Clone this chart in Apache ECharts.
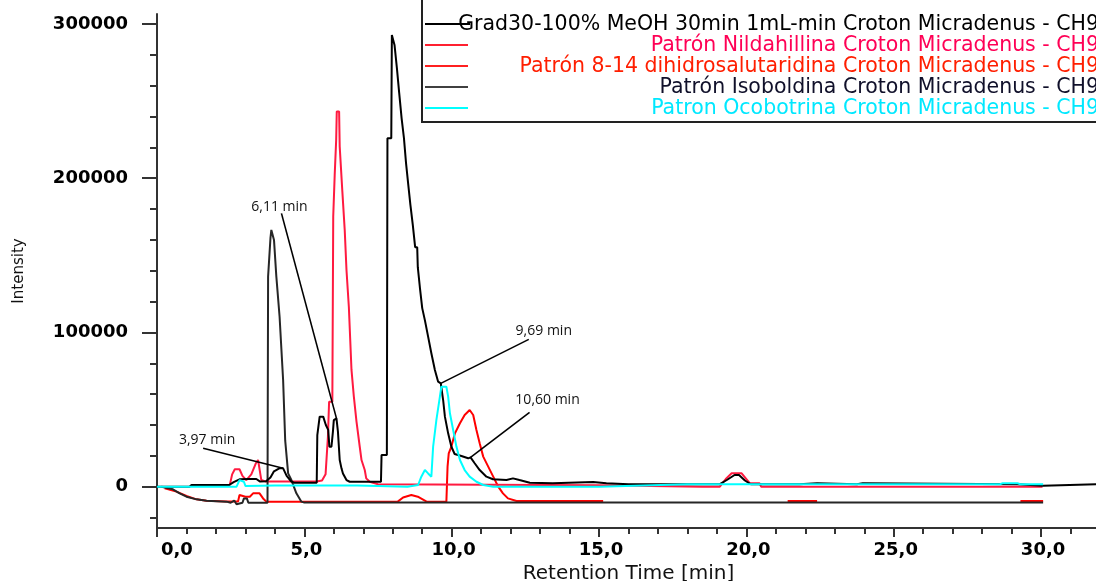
<!DOCTYPE html>
<html>
<head>
<meta charset="utf-8">
<script src="https://cdn.jsdelivr.net/npm/echarts@6/dist/echarts.min.js"></script>
<style>
  html, body { margin: 0; padding: 0; background: #fff; }
  #chart { width: 1096px; height: 581px; }
</style>
</head>
<body>
<div id="chart"></div>
<script>
// Trace names (legend order)
const traceNames = [
  'Grad30-100% MeOH 30min 1mL-min Croton Micradenus - CH9',
  'Patrón Nildahillina Croton Micradenus - CH9',
  'Patrón 8-14 dihidrosalutaridina Croton Micradenus - CH9',
  'Patrón Isoboldina Croton Micradenus - CH9',
  'Patron Ocobotrina Croton Micradenus - CH9'
];

// [retention time (min), intensity]
const gradSample = [
  [0, 0], [1.1, 0], [1.17, 1100], [2.45, 1100], [2.6, 3000], [2.8, 4800], [3.1, 5000], [3.37, 5000],
  [3.5, 3300], [3.7, 3500], [3.85, 6000], [3.97, 10000], [4.15, 11900], [4.28, 11900], [4.4, 7000],
  [4.55, 3500], [4.65, 2600], [5.42, 2600], [5.44, 33500], [5.52, 45400], [5.64, 45400], [5.73, 40000],
  [5.81, 36800], [5.85, 25900], [5.92, 25900], [5.97, 35700], [6.0, 43200], [6.09, 44300], [6.14, 35700],
  [6.2, 17300], [6.26, 11900], [6.31, 8600], [6.43, 4300], [6.54, 3200], [7.6, 3200], [7.62, 20500],
  [7.8, 20500], [7.82, 226000], [7.95, 226000], [7.97, 292900], [8.03, 292900], [8.06, 286400],
  [8.12, 286400], [8.14, 271500], [8.2, 271500], [8.22, 255000], [8.28, 255000], [8.3, 239000],
  [8.36, 239000], [8.38, 226000], [8.43, 226000], [8.45, 210000], [8.5, 210000], [8.52, 197000],
  [8.58, 197000], [8.6, 182600], [8.66, 182600], [8.68, 169700], [8.74, 169700], [8.76, 155300],
  [8.83, 155300], [8.85, 142300], [8.9, 142300], [8.92, 129300], [8.98, 129300], [9.0, 115800],
  [9.06, 115800], [9.09, 108000], [9.2, 97300], [9.31, 86500], [9.43, 75700], [9.54, 68100],
  [9.63, 67000], [9.71, 56200], [9.77, 45400], [9.88, 34600], [9.99, 25900], [10.1, 21200],
  [10.33, 19900], [10.56, 18400], [10.64, 19000], [10.78, 15200], [10.95, 10800], [11.18, 6500],
  [11.4, 4800], [11.86, 4300], [12.08, 5400], [12.3, 4300], [12.65, 2600], [13.43, 2200],
  [14.8, 3000], [15.25, 2200], [16.0, 1600], [19.1, 1600], [19.35, 4500], [19.6, 7600], [19.75, 7600],
  [19.95, 4000], [20.15, 1600], [21.8, 1600], [21.85, 2300], [22.4, 2300], [22.45, 1600],
  [23.75, 1600], [23.8, 2300], [23.95, 2300], [24.0, 1600], [29.2, 1600], [29.25, 600],
  [30.07, 600], [30.1, 1600], [32, 1600]
];

const nildahillina = [
  [2.4, 1100], [2.47, 1100], [2.55, 8000], [2.64, 11300], [2.8, 11300], [2.9, 7000], [3.03, 4300],
  [3.2, 8000], [3.35, 15000], [3.43, 17300], [3.5, 9000], [3.54, 4300], [3.7, 3300], [5.41, 3300],
  [5.6, 4000], [5.72, 8000], [5.8, 32400], [5.84, 55100], [5.95, 55100], [5.98, 175000],
  [6.03, 202000], [6.08, 224700], [6.1, 243200], [6.18, 243200], [6.2, 220500], [6.29, 191300],
  [6.37, 166500], [6.43, 140500], [6.51, 116700], [6.6, 75700], [6.68, 58400], [6.77, 42200],
  [6.88, 25900], [6.94, 17300], [7.05, 10800], [7.1, 5400], [7.22, 3200], [7.5, 1600], [15.0, 1000],
  [18.5, 0], [19.1, 0], [19.3, 5000], [19.5, 8700], [19.84, 8700], [20.12, 2200], [20.45, 2200],
  [20.5, 0], [30.05, 0]
];

const dihidrosalutaridina = [
  [0.26, -1000], [0.66, -3200], [1.0, -6000], [1.34, -8200], [1.68, -9100], [2.36, -9600],
  [2.75, -9600], [2.8, -5400], [3.0, -6500], [3.15, -6500], [3.26, -4300], [3.48, -4300],
  [3.6, -7600], [3.71, -9700], [8.17, -9700], [8.35, -7000], [8.63, -5400], [8.85, -6500],
  [9.15, -9700], [9.82, -9700], [9.86, 13000], [9.9, 21600], [9.99, 26000], [10.11, 34600],
  [10.28, 41100], [10.44, 46500], [10.61, 49700], [10.73, 46500], [10.84, 36800], [10.95, 28100],
  [11.07, 19500], [11.24, 13000], [11.41, 6500], [11.58, 0], [11.74, -4300], [11.91, -7600],
  [12.2, -9300], [15.14, -9300], [null, null], [21.4, -9300], [22.4, -9300], [null, null],
  [29.3, -9300], [30.07, -9300]
];

const isoboldina = [
  [0.15, 0], [0.54, -1700], [0.77, -4300], [1.0, -6500], [1.34, -8200], [1.68, -9100],
  [2.36, -9700], [2.5, -10400], [2.55, -11400], [2.62, -9000], [2.7, -11400], [2.9, -10400],
  [2.95, -7600], [3.05, -7600], [3.1, -10400], [3.75, -10400], [3.77, 136200], [3.83, 136200],
  [3.85, 161100], [3.88, 166500], [3.94, 166500], [3.97, 160000], [4.05, 136200], [4.16, 110200],
  [4.28, 69000], [4.35, 30000], [4.45, 8600], [4.56, 4300], [4.73, -4300], [4.9, -9700],
  [5.0, -10300], [30.07, -10300]
];

const ocobotrina = [
  [0, 0], [2.7, 0], [2.8, 4300], [2.95, 3200], [3.0, 500], [4.0, 800], [6.8, 800], [8.5, 0],
  [8.86, 1100], [8.97, 6500], [9.09, 10800], [9.2, 8600], [9.31, 6500], [9.37, 25900],
  [9.48, 43200], [9.6, 58400], [9.65, 64800], [9.82, 64800], [9.88, 58400], [9.94, 47600],
  [10.05, 36800], [10.16, 26000], [10.28, 17300], [10.44, 10800], [10.61, 6500], [10.84, 3200],
  [11.07, 1100], [11.41, 0], [15.0, 0], [18.0, 1600], [28.6, 1600], [28.7, 2200], [29.2, 2200],
  [29.3, 1600], [30.07, 1600]
];

// Axis ticks and labels
const xMajorTicks = [0, 5, 10, 15, 20, 25, 30];
const xMinorTicks = [1, 2, 3, 4, 6, 7, 8, 9, 11, 12, 13, 14, 16, 17, 18, 19, 21, 22, 23, 24, 26, 27, 28, 29, 31];
const yMajorTicks = [0, 100000, 200000, 300000];
const yMinorTicks = [-20000, 20000, 40000, 60000, 80000, 120000, 140000, 160000, 180000, 220000, 240000, 260000, 280000];

// Retention-time callouts: anchor on the trace, offsets (px) for the leader start and the label
const callouts = [
  { text: '3,97 min', at: [4.28, 11900], lead: [-80, -20], label: [-76, -28] },
  { text: '6,11 min', at: [6.09, 44300], lead: [-55, -205], label: [-57, -211] },
  { text: '9,69 min', at: [9.63, 67000], lead: [88, -44], label: [103, -52] },
  { text: '10,60 min', at: [10.64, 19000], lead: [59, -45], label: [77, -57] }
];

const traceColors = ['#000000', '#ff1a40', '#ff0000', '#262626', '#00ffff'];
const legendLineColors = ['#000000', '#ff2030', '#ff2020', '#404040', '#00ffff'];
const legendTextColors = ['#000000', '#ff0055', '#ff1e00', '#10102a', '#00e8ff'];
const traceData = [gradSample, nildahillina, dihidrosalutaridina, isoboldina, ocobotrina];
// drawing order, bottom to top
const drawOrder = [2, 1, 3, 0, 4];

const chart = echarts.init(document.getElementById('chart'), null, { renderer: 'canvas' });

const gridBox = { left: 157, right: -4, top: 14, bottom: 53, containLabel: false, outerBoundsMode: 'none' };
const xRange = { min: 0, max: 32 };
const yRange = { min: -26780, max: 306480 };
const axisColor = '#333';
const tickFont = { fontFamily: 'DejaVu Sans', fontWeight: 'bold', fontSize: 18, color: '#000' };

const fmtTime = v => v.toFixed(1).replace('.', ',');
const fmtIntensity = v => String(Math.round(v));

const option = {
  animation: false,
  backgroundColor: '#fff',
  grid: [Object.assign({}, gridBox), Object.assign({}, gridBox)],
  xAxis: [
    {
      type: 'value', gridIndex: 0, min: xRange.min, max: xRange.max,
      name: 'Retention Time [min]', nameLocation: 'middle', nameGap: 34,
      nameTextStyle: { fontFamily: 'DejaVu Sans', fontSize: 20, color: '#111', verticalAlign: 'top' },
      axisLine: { show: true, onZero: false, lineStyle: { color: axisColor, width: 2 } },
      axisTick: { show: true, length: 9, customValues: xMajorTicks, lineStyle: { color: axisColor, width: 2 } },
      axisLabel: Object.assign({ customValues: xMajorTicks, margin: 13, formatter: fmtTime, alignMinLabel: 'left', padding: [0, 0, 0, 4] }, tickFont),
      splitLine: { show: false }
    },
    {
      type: 'value', gridIndex: 1, min: xRange.min, max: xRange.max,
      axisLine: { show: false, onZero: false },
      axisTick: { show: true, length: 6, customValues: xMinorTicks, lineStyle: { color: axisColor, width: 2 } },
      axisLabel: { show: false },
      splitLine: { show: false }
    }
  ],
  yAxis: [
    {
      type: 'value', gridIndex: 0, min: yRange.min, max: yRange.max,
      name: 'Intensity', nameLocation: 'middle', nameGap: 130, nameRotate: 90,
      nameTextStyle: { fontFamily: 'DejaVu Sans', fontSize: 15, color: '#111' },
      axisLine: { show: true, onZero: false, lineStyle: { color: axisColor, width: 2 } },
      axisTick: { show: true, length: 15, customValues: yMajorTicks, lineStyle: { color: axisColor, width: 2 } },
      axisLabel: Object.assign({ customValues: yMajorTicks, margin: 29, formatter: fmtIntensity }, tickFont),
      splitLine: { show: false }
    },
    {
      type: 'value', gridIndex: 1, min: yRange.min, max: yRange.max,
      axisLine: { show: false, onZero: false },
      axisTick: { show: true, length: 7, customValues: yMinorTicks, lineStyle: { color: axisColor, width: 2 } },
      axisLabel: { show: false },
      splitLine: { show: false }
    }
  ],
  series: drawOrder.map(i => ({
    name: traceNames[i],
    type: 'line',
    xAxisIndex: 0,
    yAxisIndex: 0,
    data: traceData[i],
    showSymbol: false,
    symbol: 'none',
    connectNulls: false,
    clip: true,
    lineStyle: { color: traceColors[i], width: 2 },
    itemStyle: { color: traceColors[i] },
    z: 2 + drawOrder.indexOf(i)
  }))
};

chart.setOption(option);

// Legend box in the upper right, plus the retention-time callouts
const legendRowY = [24, 45, 66, 87, 108];
const graphics = [];
graphics.push({
  type: 'rect', z: 50,
  shape: { x: 422, y: -4, width: 700, height: 126 },
  style: { fill: '#fff', stroke: '#222', lineWidth: 2 }
});
traceNames.forEach((name, i) => {
  graphics.push({
    type: 'line', z: 51,
    shape: { x1: 425, y1: legendRowY[i], x2: i === 0 ? 470 : 468, y2: legendRowY[i] },
    style: { stroke: legendLineColors[i], lineWidth: 2 }
  });
  graphics.push({
    type: 'text', z: 52,
    x: 1099, y: legendRowY[i] + 1,
    style: {
      text: name, fill: legendTextColors[i], align: 'right', verticalAlign: 'middle',
      font: '20.5px "DejaVu Sans"'
    }
  });
});
callouts.forEach(c => {
  const p = chart.convertToPixel({ xAxisIndex: 0, yAxisIndex: 0 }, c.at);
  graphics.push({
    type: 'line', z: 40,
    shape: { x1: p[0] + c.lead[0], y1: p[1] + c.lead[1], x2: p[0], y2: p[1] },
    style: { stroke: '#000', lineWidth: 1.6 }
  });
  graphics.push({
    type: 'text', z: 41,
    x: p[0] + c.label[0], y: p[1] + c.label[1],
    style: {
      text: c.text, fill: '#111', align: 'center', verticalAlign: 'middle',
      font: '14px "Open Sans"'
    }
  });
});
chart.setOption({ graphic: graphics });
</script>
</body>
</html>
